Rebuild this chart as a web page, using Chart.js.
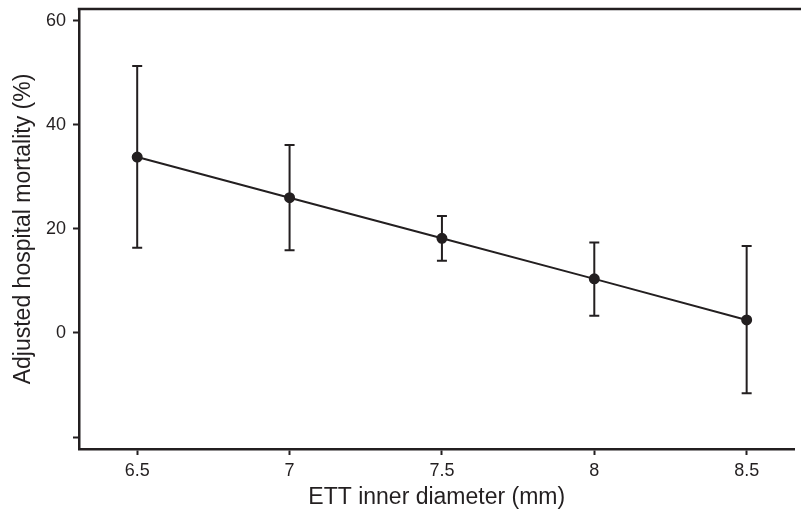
<!DOCTYPE html>
<html>
<head>
<meta charset="utf-8">
<script src="https://cdn.jsdelivr.net/npm/chart.js@4"></script>
<style>
  html, body { margin: 0; padding: 0; background: #fff; }
  #wrap { width: 801px; height: 512px; }
</style>
</head>
<body>
<div id="wrap"><canvas id="myChart"></canvas></div>
<script>
// ETT inner diameter (mm) and adjusted hospital mortality (%)
const diameters = [6.5, 7, 7.5, 8, 8.5];
const mortality = [33.8, 26.0, 18.2, 10.4, 2.5];
const upperCI = [51.3, 36.1, 22.5, 17.4, 16.7];
const lowerCI = [16.4, 15.9, 13.9, 3.3, -11.6];
const yTicks = [-20, 0, 20, 40, 60];
const xTicks = [6.5, 7, 7.5, 8, 8.5];

const ink = '#231f20';

// whiskers + top border line
const errorBars = {
    id: 'errorBars',
    beforeDatasetsDraw(chart) {
        const ctx = chart.ctx;
        const xs = chart.scales.x, ys = chart.scales.y;
        ctx.save();
        ctx.strokeStyle = ink;
        ctx.lineWidth = 2;
        diameters.forEach((d, i) => {
            const px = xs.getPixelForValue(d);
            const top = ys.getPixelForValue(upperCI[i]);
            const bot = ys.getPixelForValue(lowerCI[i]);
            ctx.beginPath();
            ctx.moveTo(px, top); ctx.lineTo(px, bot);
            ctx.moveTo(px - 5, top); ctx.lineTo(px + 5, top);
            ctx.moveTo(px - 5, bot); ctx.lineTo(px + 5, bot);
            ctx.stroke();
        });
        // top frame line
        const a = chart.chartArea;
        ctx.lineWidth = 2.5;
        ctx.beginPath();
        ctx.moveTo(a.left - 1.25, a.top);
        ctx.lineTo(chart.width, a.top);
        ctx.stroke();
        ctx.restore();
    }
};

const ctx = document.getElementById('myChart').getContext('2d');
const myChart = new Chart(ctx, {
    type: 'scatter',
    data: {
        datasets: [{
            data: diameters.map((d, i) => ({ x: d, y: mortality[i] })),
            showLine: true,
            borderColor: ink,
            borderWidth: 2,
            pointRadius: 4.5,
            pointBackgroundColor: ink,
            pointBorderColor: ink
        }]
    },
    options: {
        responsive: true,
        maintainAspectRatio: false,
        animation: false,
        layout: { padding: { top: 9, right: 0, left: 0, bottom: 0 } },
        plugins: {
            legend: { display: false },
            tooltip: { enabled: false }
        },
        scales: {
            x: {
                type: 'linear',
                min: 6.309,
                max: 8.657,
                afterBuildTicks: (axis) => { axis.ticks = xTicks.map(v => ({ value: v })); },
                afterFit: (axis) => {
                    axis.height = 63;
                    axis.paddingLeft = 0;
                    axis.paddingRight = 0;
                },
                border: { display: true, color: ink, width: 2.5 },
                grid: { drawOnChartArea: false, drawTicks: true, tickLength: 6, tickWidth: 2, tickColor: ink },
                ticks: {
                    color: ink,
                    padding: 5,
                    maxRotation: 0,
                    font: { family: 'Liberation Sans', size: 18 },
                    callback: (v) => String(v)
                },
                title: {
                    display: true,
                    text: 'ETT inner diameter (mm)',
                    color: ink,
                    font: { family: 'Liberation Sans', size: 23 },
                    padding: { top: 0, bottom: 1 }
                }
            },
            y: {
                min: -22.29,
                max: 62.25,
                afterBuildTicks: (axis) => { axis.ticks = yTicks.map(v => ({ value: v })); },
                afterFit: (axis) => {
                    axis.width = 79;
                    axis.paddingTop = 0;
                    axis.paddingBottom = 0;
                },
                border: { display: true, color: ink, width: 2.5 },
                grid: { drawOnChartArea: false, drawTicks: true, tickLength: 6, tickWidth: 2, tickColor: ink },
                ticks: {
                    color: ink,
                    padding: 7,
                    font: { family: 'Liberation Sans', size: 18 },
                    callback: (v) => v === -20 ? '' : String(v)
                },
                title: {
                    display: true,
                    text: 'Adjusted hospital mortality (%)',
                    color: ink,
                    font: { family: 'Liberation Sans', size: 23 },
                    padding: { top: 10, bottom: 0 }
                }
            }
        }
    },
    plugins: [errorBars]
});
</script>
</body>
</html>
